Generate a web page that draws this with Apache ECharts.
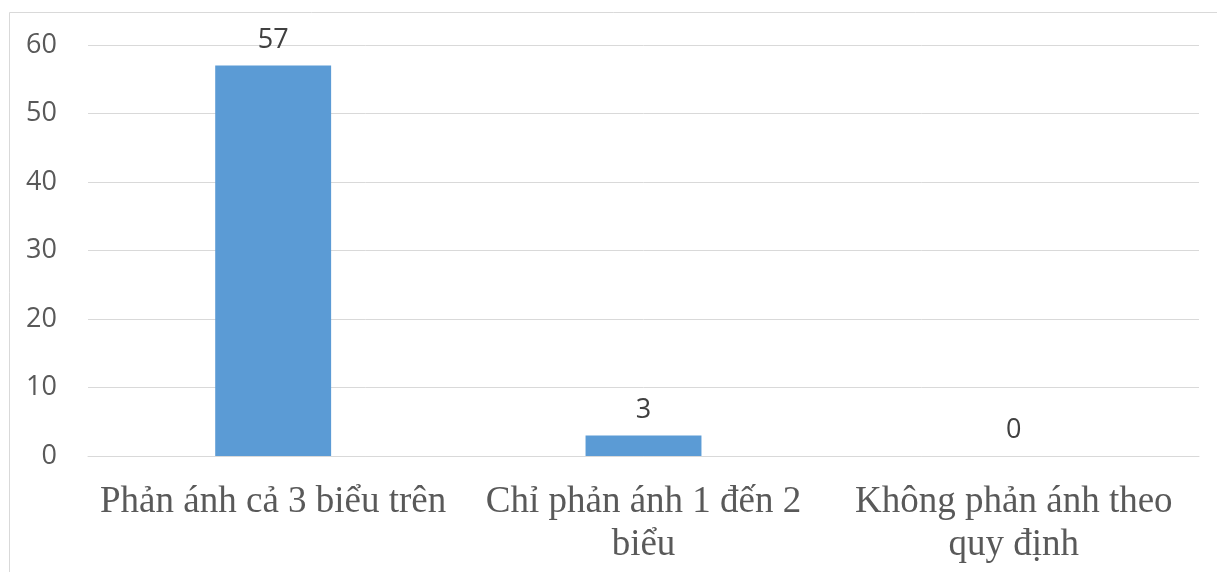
<!DOCTYPE html>
<html>
<head>
<meta charset="utf-8">
<script src="https://cdn.jsdelivr.net/npm/echarts@6/dist/echarts.min.js"></script>
<style>
  html, body { margin: 0; padding: 0; background: #ffffff; }
  #chart { width: 1217px; height: 572px; }
</style>
</head>
<body>
<div id="chart"></div>
<script>
// Categories and counts
const categories = [
  'Phản ánh cả 3 biểu trên',
  'Chỉ phản ánh 1 đến 2 biểu',
  'Không phản ánh theo quy định'
];
const counts = [57, 3, 0];
const yTicks = [0, 10, 20, 30, 40, 50, 60];

const LABEL_FONT = '37px "Liberation Serif"';
const LABEL_MAX_WIDTH = 362;

// Word-wrap a category name so each line fits under its bar slot
const measureCtx = document.createElement('canvas').getContext('2d');
function wrapLabel(text) {
  measureCtx.font = LABEL_FONT;
  const words = text.split(' ');
  const lines = [];
  let line = '';
  words.forEach(function (w) {
    const test = line ? line + ' ' + w : w;
    if (line && measureCtx.measureText(test).width > LABEL_MAX_WIDTH) {
      lines.push(line);
      line = w;
    } else {
      line = test;
    }
  });
  if (line) lines.push(line);
  return lines.join('\n');
}

const chart = echarts.init(document.getElementById('chart'), null, { renderer: 'canvas' });

chart.setOption({
  animation: false,
  backgroundColor: '#ffffff',
  graphic: [{
    type: 'rect',
    shape: { x: 9.5, y: 12.5, width: 1400, height: 800 },
    style: { fill: 'none', stroke: '#d9d9d9', lineWidth: 1 },
    silent: true,
    z: -1
  }],
  grid: { left: 88, right: 18, top: 45, bottom: 116, containLabel: false },
  xAxis: {
    type: 'category',
    data: categories,
    axisLine: { show: true, lineStyle: { color: '#d9d9d9', width: 1 } },
    axisTick: { show: false },
    axisLabel: {
      interval: 0,
      margin: 25,
      color: '#595959',
      fontFamily: 'Liberation Serif',
      fontSize: 37,
      lineHeight: 43,
      formatter: wrapLabel
    }
  },
  yAxis: {
    type: 'value',
    min: yTicks[0],
    max: yTicks[yTicks.length - 1],
    interval: 10,
    axisLine: { show: false },
    axisTick: { show: false },
    splitLine: { lineStyle: { color: '#d9d9d9', width: 1 } },
    axisLabel: {
      margin: 31,
      color: '#595959',
      fontFamily: 'Open Sans',
      fontSize: 27
    }
  },
  series: [{
    type: 'bar',
    data: counts,
    barWidth: '31.3%',
    itemStyle: { color: '#5b9bd5' },
    label: {
      show: true,
      position: 'top',
      distance: 12,
      color: '#404040',
      fontFamily: 'Open Sans',
      fontSize: 27
    }
  }]
});
</script>
</body>
</html>
